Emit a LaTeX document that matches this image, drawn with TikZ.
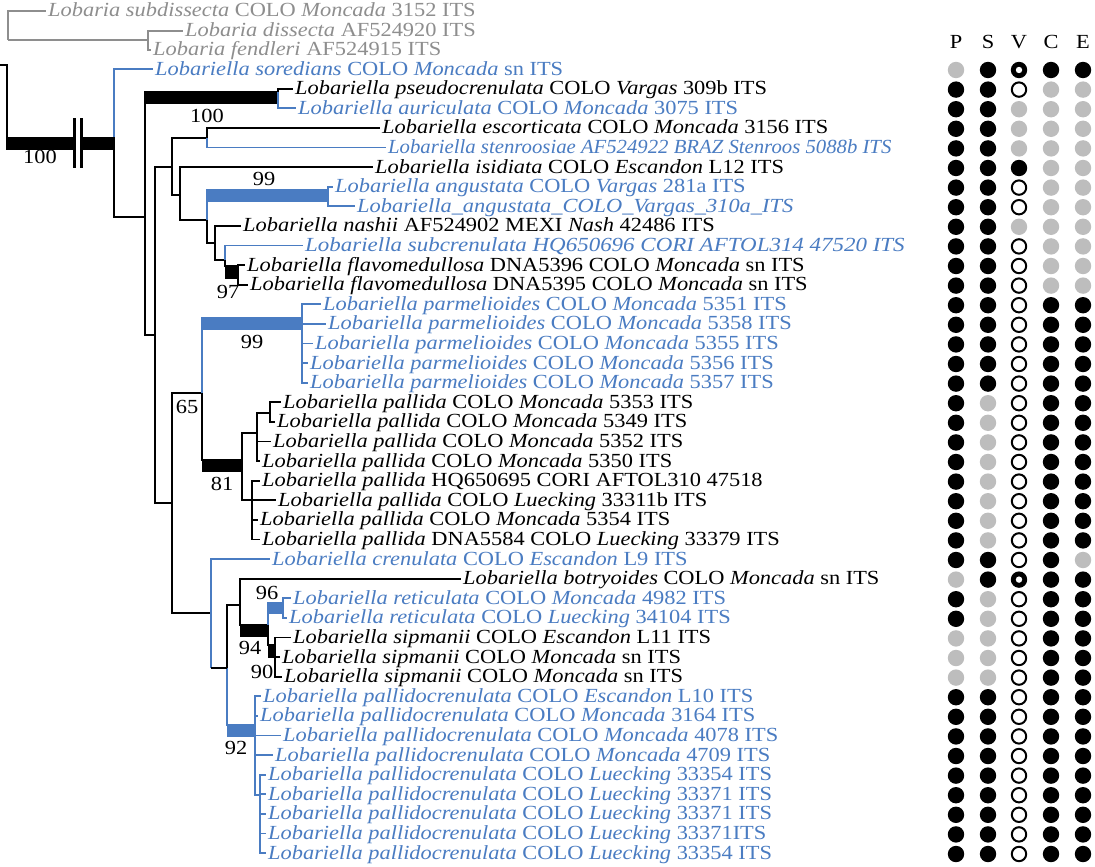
\documentclass[tikz,border=0pt]{standalone}
\usepackage{graphicx}
\usepackage{fontspec}
\setmainfont[FakeStretch=1.12]{Liberation Serif}
\definecolor{lblue}{HTML}{4A7CC2}
\definecolor{lgrey}{HTML}{8E8E8E}
\definecolor{dotgrey}{HTML}{BDBDBD}
\tikzset{
  br/.style={line width=1.8pt, draw=black},
  brb/.style={line width=1.8pt, draw=lblue},
  brg/.style={line width=1.8pt, draw=lgrey},
  lbl/.style={inner sep=0pt, font=\fontsize{20}{24}\selectfont},
  bslbl/.style={inner sep=0pt, font=\fontsize{20}{24}\selectfont},
}
\newcommand\leaf[5]{%
  \coordinate (#1) at ({#3-2},{#2});
  \node[lbl,text=#4,anchor=base west] (#1l) at ({#3},{#2+6}) {#5};}
\newcommand\dt[3]{%
  \if#3b\fill[black] (#1,{70+(#2-1)*19.6}) circle[radius=8.2pt];\fi
  \if#3g\fill[dotgrey] (#1,{70+(#2-1)*19.6}) circle[radius=8.2pt];\fi
  \if#3o\draw[black,line width=2pt] (#1,{70+(#2-1)*19.6}) circle[radius=7.2pt];\fi
  \if#3r\fill[black] (#1,{70+(#2-1)*19.6}) circle[radius=8.2pt];
        \fill[white] (#1,{70+(#2-1)*19.6}) circle[radius=3.2pt];\fi}
\newcommand\drow[6]{\dt{956}{#1}{#2}\dt{988}{#1}{#3}\dt{1019}{#1}{#4}\dt{1051}{#1}{#5}\dt{1083}{#1}{#6}}
\newcommand\Lob[1]{\textit{Lobariella #1}}
\begin{document}
\begin{tikzpicture}[x=1pt,y=-1pt]
\useasboundingbox (0,0) rectangle (1095,867);
\fill[white] (0,0) rectangle (1095,867);

% ---------- leaves ----------
\leaf{o1}{11}{48}{lgrey}{\textit{Lobaria subdissecta} COLO \textit{Moncada} 3152 ITS}
\leaf{o2}{31}{185}{lgrey}{\textit{Lobaria dissecta} AF524920 ITS}
\leaf{o3}{50}{153}{lgrey}{\textit{Lobaria fendleri} AF524915 ITS}
\leaf{t1}{69.0}{155}{lblue}{\Lob{soredians} COLO \textit{Moncada} sn ITS}
\leaf{t2}{88.6}{295}{black}{\Lob{pseudocrenulata} COLO \textit{Vargas} 309b ITS}
\leaf{t3}{108.2}{298}{lblue}{\Lob{auriculata} COLO \textit{Moncada} 3075 ITS}
\leaf{t4}{127.8}{382}{black}{\Lob{escorticata} COLO \textit{Moncada} 3156 ITS}
\leaf{t5}{147.4}{388}{lblue}{\scalebox{0.926}[1]{\textit{Lobariella stenroosiae AF524922 BRAZ Stenroos 5088b ITS}}}
\leaf{t6}{167.0}{375}{black}{\Lob{isidiata} COLO \textit{Escandon} L12 ITS}
\leaf{t7}{186.6}{335}{lblue}{\Lob{angustata} COLO \textit{Vargas} 281a ITS}
\leaf{t8}{206.2}{357}{lblue}{\textit{Lobariella\_angustata\_COLO\_Vargas\_310a\_ITS}}
\leaf{t9}{225.8}{243}{black}{\Lob{nashii} AF524902 MEXI \textit{Nash} 42486 ITS}
\leaf{t10}{245.4}{305}{lblue}{\scalebox{1.025}[1]{\textit{Lobariella subcrenulata HQ650696 CORI AFTOL314 47520 ITS}}}
\leaf{t11}{265.0}{247}{black}{\Lob{flavomedullosa} DNA5396 COLO \textit{Moncada} sn ITS}
\leaf{t12}{284.6}{250}{black}{\Lob{flavomedullosa} DNA5395 COLO \textit{Moncada} sn ITS}
\leaf{t13}{304.2}{323}{lblue}{\Lob{parmelioides} COLO \textit{Moncada} 5351 ITS}
\leaf{t14}{323.8}{328}{lblue}{\Lob{parmelioides} COLO \textit{Moncada} 5358 ITS}
\leaf{t15}{343.4}{315}{lblue}{\Lob{parmelioides} COLO \textit{Moncada} 5355 ITS}
\leaf{t16}{363.0}{310}{lblue}{\Lob{parmelioides} COLO \textit{Moncada} 5356 ITS}
\leaf{t17}{382.6}{310}{lblue}{\Lob{parmelioides} COLO \textit{Moncada} 5357 ITS}
\leaf{t18}{402.2}{283}{black}{\Lob{pallida} COLO \textit{Moncada} 5353 ITS}
\leaf{t19}{421.8}{277}{black}{\Lob{pallida} COLO \textit{Moncada} 5349 ITS}
\leaf{t20}{441.4}{273}{black}{\Lob{pallida} COLO \textit{Moncada} 5352 ITS}
\leaf{t21}{461.0}{262}{black}{\Lob{pallida} COLO \textit{Moncada} 5350 ITS}
\leaf{t22}{480.6}{262}{black}{\Lob{pallida} HQ650695 CORI AFTOL310 47518}
\leaf{t23}{500.2}{278}{black}{\Lob{pallida} COLO \textit{Luecking} 33311b ITS}
\leaf{t24}{519.8}{260}{black}{\Lob{pallida} COLO \textit{Moncada} 5354 ITS}
\leaf{t25}{539.4}{262}{black}{\Lob{pallida} DNA5584 COLO \textit{Luecking} 33379 ITS}
\leaf{t26}{559.0}{272}{lblue}{\Lob{crenulata} COLO \textit{Escandon} L9 ITS}
\leaf{t27}{578.6}{463}{black}{\Lob{botryoides} COLO \textit{Moncada} sn ITS}
\leaf{t28}{598.2}{293}{lblue}{\Lob{reticulata} COLO \textit{Moncada} 4982 ITS}
\leaf{t29}{617.8}{289}{lblue}{\Lob{reticulata} COLO \textit{Luecking} 34104 ITS}
\leaf{t30}{637.4}{293}{black}{\Lob{sipmanii} COLO \textit{Escandon} L11 ITS}
\leaf{t31}{657.0}{282}{black}{\Lob{sipmanii} COLO \textit{Moncada} sn ITS}
\leaf{t32}{676.6}{284}{black}{\Lob{sipmanii} COLO \textit{Moncada} sn ITS}
\leaf{t33}{696.2}{263}{lblue}{\Lob{pallidocrenulata} COLO \textit{Escandon} L10 ITS}
\leaf{t34}{715.8}{260}{lblue}{\Lob{pallidocrenulata} COLO \textit{Moncada} 3164 ITS}
\leaf{t35}{735.4}{283}{lblue}{\Lob{pallidocrenulata} COLO \textit{Moncada} 4078 ITS}
\leaf{t36}{755.0}{275}{lblue}{\Lob{pallidocrenulata} COLO \textit{Moncada} 4709 ITS}
\leaf{t37}{774.6}{268}{lblue}{\Lob{pallidocrenulata} COLO \textit{Luecking} 33354 ITS}
\leaf{t38}{794.2}{268}{lblue}{\Lob{pallidocrenulata} COLO \textit{Luecking} 33371 ITS}
\leaf{t39}{813.8}{268}{lblue}{\Lob{pallidocrenulata} COLO \textit{Luecking} 33371 ITS}
\leaf{t40}{833.4}{268}{lblue}{\Lob{pallidocrenulata} COLO \textit{Luecking} 33371ITS}
\leaf{t41}{853.0}{268}{lblue}{\Lob{pallidocrenulata} COLO \textit{Luecking} 33354 ITS}

% ---------- internal nodes ----------
\coordinate (ogA) at (8,40);   \coordinate (ogB) at (148,40);
\coordinate (r0) at (0,65);    \coordinate (r1) at (7,65);  \coordinate (r2) at (7,150);
\coordinate (nA) at (114,137); \coordinate (nB) at (145,217);
\coordinate (nC) at (278,92);  \coordinate (nE) at (155,335);
\coordinate (nF) at (172,167); \coordinate (nG) at (207,138);
\coordinate (nH) at (180,195); \coordinate (nI) at (207,220);
\coordinate (nM) at (328,190); \coordinate (nJ) at (215,243);
\coordinate (nK) at (225,260); \coordinate (nL) at (238,266);
\coordinate (nN) at (172,503); \coordinate (nO) at (202,393);
\coordinate (nPa) at (302,318);\coordinate (nP) at (242,460);
\coordinate (nP1) at (257,433);\coordinate (nP3) at (270,413);
\coordinate (nP2) at (252,500);\coordinate (nQ) at (211,613);
\coordinate (nR) at (227,668); \coordinate (nS) at (240,605);
\coordinate (nT) at (268,625); \coordinate (nU) at (283,603);
\coordinate (nV) at (275,645); \coordinate (nW) at (255,725);
\coordinate (nX) at (260,795);

% ---------- thick (supported) branches ----------
\fill[black] (7,137) rectangle (74,150);
\fill[black] (82,137) rectangle (115,150);
\coordinate (k1a) at (74.5,118); \coordinate (k1b) at (74.5,168);
\coordinate (k2a) at (81.5,118); \coordinate (k2b) at (81.5,168);
\draw[line width=2.6pt] (k1a) -- (k1b) (k2a) -- (k2b);
\fill[black] (nB |- nC) rectangle ([yshift=-12pt]nC);
\fill[lblue] (nI |- nM) rectangle ([yshift=-12pt]nM);
\fill[black] (nK |- nL) rectangle ([yshift=-13pt]nL);
\fill[lblue] (nO |- nPa) rectangle ([yshift=-12pt]nPa);
\fill[black] (nO |- nP) rectangle ([yshift=-12pt]nP);
\fill[black] (nS |- nT) rectangle ([yshift=-12pt]nT);
\fill[lblue] (nT |- nU) rectangle ([yshift=-11pt]nU);
\fill[black] (nT |- nV) rectangle ([yshift=-13pt]nV);
\fill[lblue] (nR |- nW) rectangle ([yshift=-12pt]nW);

% ---------- connectors ----------
\draw[brg] (ogA) |- (o1) (ogA) -- (ogB) (ogB) |- (o2) (ogB) |- (o3);
\draw[br] (r0) -- (r1) -- (r2);
\draw[brb] (nA) |- (t1);
\draw[br] (nA) |- (nB) (nB) |- (nC) (nC) |- (t2) (nB) |- (nE)
  (nE) |- (nF) (nE) |- (nN) (nF) |- (nG) (nG) |- (t4) (nF) |- (nH)
  (nH) |- (t6) (nH) |- (nI) (nI) |- (nJ) (nJ) |- (t9) (nJ) |- (nK)
  (nK) |- (nL) (nL) |- (t11) (nL) |- (t12)
  (nN) |- (nO) (nO) |- (nP) (nP) |- (nP1) (nP1) |- (nP3) (nP3) |- (t18) (nP3) |- (t19)
  (nP1) |- (t20) (nP1) |- (t21) (nP) |- (nP2) (nP2) |- (t22) (nP2) |- (t23)
  (nP2) |- (t24) (nP2) |- (t25)
  (nN) |- (nQ) (nR) |- (nS) (nS) |- (t27) (nS) |- (nT) (nT) |- (nV)
  (nV) |- (t30) (nV) |- (t31) (nV) |- (t32);
\draw[brb] (nC) |- (t3) (nG) |- (t5) (nI) |- (nM) (nM) |- (t7) (nM) |- (t8)
  (nK) |- (t10) (nO) |- (nPa) (nPa) |- (t13) (nPa) |- (t14) (nPa) |- (t15)
  (nPa) |- (t16) (nPa) |- (t17) (nQ) |- (t26) (nQ) -- (nQ |- nR)
  (nR) |- (nW) (nT) |- (nU) (nU) |- (t28) (nU) |- (t29)
  (nW) |- (t33) (nW) |- (t34) (nW) |- (t35) (nW) |- (t36) (nW) |- (nX)
  (nX) |- (t37) (nX) |- (t38) (nX) |- (t39) (nX) |- (t40) (nX) |- (t41);
\draw[br] (nQ |- nR) -- (nR);

% ---------- support values ----------
\node[bslbl] (s1) at (40,157) {100};
\node[bslbl] (s2) at (207,116) {100};
\node[bslbl] (s3) at (264,179) {99};
\node[bslbl] (s4) at (228,292) {97};
\node[bslbl] (s5) at (252,342) {99};
\node[bslbl] (s6) at (187,407) {65};
\node[bslbl] (s7) at (222,484) {81};
\node[bslbl] (s8) at (267,593) {96};
\node[bslbl] (s9) at (250,648) {94};
\node[bslbl] (s10) at (262,672) {90};
\node[bslbl] (s11) at (236,748) {92};

% ---------- character matrix ----------
\node[bslbl] (hP) at (956,42) {P};
\node[bslbl] (hS) at (988,42) {S};
\node[bslbl] (hV) at (1019,42) {V};
\node[bslbl] (hC) at (1051,42) {C};
\node[bslbl] (hE) at (1083,42) {E};
\foreach \i/\a/\b/\c/\d/\e in {
  1/g/b/r/b/b, 2/b/b/o/g/g, 3/b/b/g/g/g, 4/b/b/g/g/g, 5/b/b/g/g/g,
  6/b/b/b/g/g, 7/b/b/o/g/g, 8/b/b/o/g/g, 9/b/b/g/g/g, 10/b/b/o/g/g,
  11/b/b/o/g/g, 12/b/b/o/g/g, 13/b/b/o/b/b, 14/b/b/o/b/b, 15/b/b/o/b/b,
  16/b/b/o/b/b, 17/b/b/o/b/b, 18/b/g/o/b/b, 19/b/g/o/b/b, 20/b/g/o/b/b,
  21/b/g/o/b/b, 22/b/g/o/b/b, 23/b/g/o/b/b, 24/b/g/o/b/b, 25/b/g/o/b/b,
  26/b/b/o/b/g, 27/g/b/r/b/b, 28/b/g/o/b/b, 29/b/g/o/b/b, 30/g/g/o/b/b,
  31/g/g/o/b/b, 32/g/g/o/b/b, 33/b/b/o/b/b, 34/b/b/o/b/b, 35/b/b/o/b/b,
  36/b/b/o/b/b, 37/b/b/o/b/b, 38/b/b/o/b/b, 39/b/b/o/b/b, 40/b/b/o/b/b,
  41/b/b/o/b/b}{\drow{\i}{\a}{\b}{\c}{\d}{\e}}
\end{tikzpicture}
\end{document}
